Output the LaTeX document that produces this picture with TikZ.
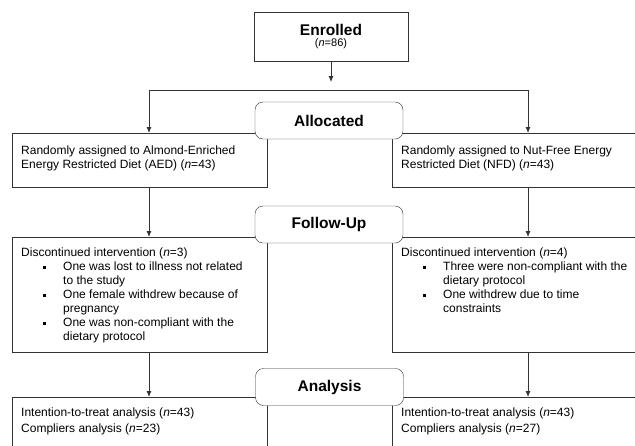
\documentclass[tikz,border=0pt]{standalone}
\usepackage{fontspec}
\setmainfont{Liberation Sans}
\usepackage{tikz}
\usetikzlibrary{arrows.meta, positioning, calc}
\tikzstyle{phase} = [rectangle, draw, fill=white, rounded corners=8pt, minimum width=148pt, minimum height=37pt, inner sep=0pt, font=\fontsize{15.5}{18}\selectfont\bfseries]
\tikzstyle{entry} = [rectangle, draw, fill=white, minimum width=154pt, minimum height=49pt, inner sep=0pt, align=center]
\tikzstyle{arm} = [rectangle, draw, anchor=north west, inner xsep=9pt, inner ysep=0pt, font=\fontsize{12}{14}\selectfont]
\tikzstyle{arrow} = [draw, ->, thick]
% text placed at the top of an arm box
\newcommand{\armtext}[3]{\parbox[t][#1][t]{237pt}{\raggedright\vspace*{#2}\strut #3}}
\newcommand{\sqitem}[1]{\par\hangindent=42pt\hangafter=1\hspace*{22pt}\makebox[20pt][l]{\rule[2.2pt]{2.8pt}{2.8pt}}#1}

\begin{document}
\begin{tikzpicture}[x=1pt, y=-1pt, draw=black!80, >={Latex[length=6pt, width=5pt]}]
    \useasboundingbox (0,0) rectangle (635,445);
    \clip (0,0) rectangle (635,445);

    \node (enrolled) [entry] at (331,36.5) {{\fontsize{15.5}{15}\selectfont\bfseries Enrolled}\\[-1pt]{\fontsize{11}{12}\selectfont(\textit{n}=86)}};

    % Allocation
    \node (aed) [arm] at (12,133) {\armtext{54pt}{11pt}{Randomly assigned to Almond-Enriched\\Energy Restricted Diet (AED) (\textit{n}=43)}};
    \node (nfd) [arm] at (392,133) {\armtext{54pt}{11pt}{Randomly assigned to Nut-Free Energy\\Restricted Diet (NFD) (\textit{n}=43)}};

    % Follow-up
    \node (aedstop) [arm] at (12,237) {\armtext{115pt}{9.7pt}{Discontinued intervention (\textit{n}=3)
        \sqitem{One was lost to illness not related\newline to the study}
        \sqitem{One female withdrew because of\newline pregnancy}
        \sqitem{One was non-compliant with the\newline dietary protocol}}};
    \node (nfdstop) [arm] at (392,237) {\armtext{115pt}{9.7pt}{Discontinued intervention (\textit{n}=4)
        \sqitem{Three were non-compliant with the\newline dietary protocol}
        \sqitem{One withdrew due to time\newline constraints}}};

    % Analysis
    \node (aeditt) [arm] at (12,397) {\armtext{64pt}{9pt}{Intention-to-treat analysis (\textit{n}=43)\\[2pt]Compliers analysis (\textit{n}=23)}};
    \node (nfditt) [arm] at (392,397) {\armtext{64pt}{9pt}{Intention-to-treat analysis (\textit{n}=43)\\[2pt]Compliers analysis (\textit{n}=27)}};

    % Phase labels
    \node (allocated) [phase] at (329,120.5) {Allocated};
    \node (followup) [phase] at (329,224.5) {Follow-Up};
    \node (analysis) [phase] at (329.5,387) {Analysis};

    \coordinate (enrolledstub) at (331,82);
    \coordinate (branchl) at (149,90);
    \coordinate (branchr) at (528,90);

    \draw [arrow] (enrolled.south) -- (enrolledstub);
    \draw [arrow, <->] (branchl |- aed.north) -- (branchl) -- (branchr) -- (branchr |- nfd.north);

    \draw [arrow] (branchl |- aed.south) -- (branchl |- aedstop.north);
    \draw [arrow] (branchr |- nfd.south) -- (branchr |- nfdstop.north);

    \draw [arrow] (branchl |- aedstop.south) -- (branchl |- aeditt.north);
    \draw [arrow] (branchr |- nfdstop.south) -- (branchr |- nfditt.north);
\end{tikzpicture}
\end{document}
